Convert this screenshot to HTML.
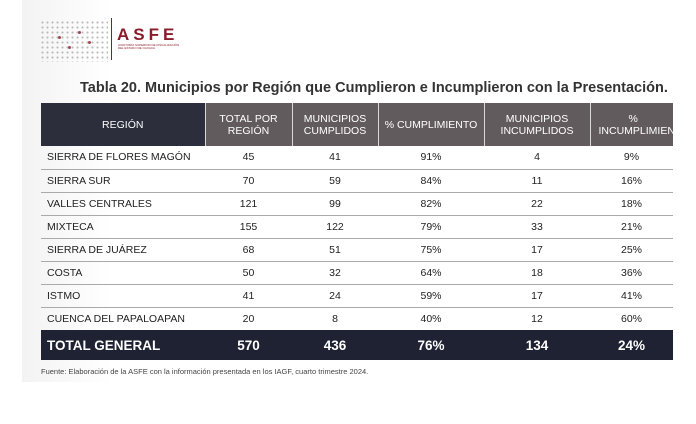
<!DOCTYPE html>
<html><head><meta charset="utf-8"><style>
*{margin:0;padding:0;box-sizing:border-box}
body{width:696px;height:424px;background:#fff;position:relative;overflow:hidden;font-family:"Liberation Sans",sans-serif}
.strip{position:absolute;left:22px;top:0;width:90px;height:382px;background:linear-gradient(90deg,#f3f3f3,#fff)}
.logo{position:absolute;left:40px;top:20px;width:68px;height:42px;
background-image:radial-gradient(circle,#aaa 0.9px,transparent 1.2px);background-size:5px 5px;opacity:.8}
.logo i{position:absolute;width:3px;height:3px;border-radius:50%;background:#8a1c2a}
.vl{position:absolute;left:111px;top:18px;width:1px;height:42px;background:#8a1c2a}
.asfe{position:absolute;left:117px;top:25px;font-weight:bold;font-size:17px;letter-spacing:4px;color:#8a1c2a}
.sub{position:absolute;left:118px;top:44px;font-size:3px;color:#8a1c2a;line-height:3px}
.title{position:absolute;left:80px;top:80px;font-size:14.5px;font-weight:bold;color:#333;white-space:nowrap}
table{position:absolute;left:41px;top:103px;width:632px;border-collapse:collapse;table-layout:fixed}
th{height:43px;background:#625b5e;color:#fff;font-size:10.5px;font-weight:normal;line-height:12px;border-left:1px solid #d8d8d8;overflow:hidden;white-space:nowrap}
th.r{background:#2c2f3b;border-left:none}
th.l{text-align:left;padding-left:8px}
td{height:23px;font-size:10.5px;color:#222;text-align:center;border-bottom:1px solid #aaa}
td:first-child{text-align:left;padding-left:6px}
tr.t td{height:30px;background:#1e2233;color:#fff;font-weight:bold;font-size:13.5px;border:none}
.fn{position:absolute;left:41px;top:367px;font-size:7.5px;color:#444}
</style></head><body>
<div class="strip"></div>
<div class="logo"><i style="left:18px;top:16px"></i><i style="left:28px;top:26px"></i><i style="left:38px;top:11px"></i><i style="left:48px;top:21px"></i></div>
<div class="vl"></div>
<div class="asfe">ASFE</div>
<div class="sub">AUDITORÍA SUPERIOR DE FISCALIZACIÓN<br>DEL ESTADO DE OAXACA</div>
<div class="title">Tabla 20. Municipios por Región que Cumplieron e Incumplieron con la Presentación.</div>
<table>
<colgroup><col style="width:164px"><col style="width:87px"><col style="width:86px"><col style="width:106px"><col style="width:106px"><col style="width:83px"></colgroup>
<tr><th class="r">REGIÓN</th><th>TOTAL POR<br>REGIÓN</th><th>MUNICIPIOS<br>CUMPLIDOS</th><th>% CUMPLIMIENTO</th><th>MUNICIPIOS<br>INCUMPLIDOS</th><th class="l"><span style="padding-left:30px">%</span><br>INCUMPLIMIENTO</th></tr>
<tr><td>SIERRA DE FLORES MAGÓN</td><td>45</td><td>41</td><td>91%</td><td>4</td><td>9%</td></tr>
<tr><td>SIERRA SUR</td><td>70</td><td>59</td><td>84%</td><td>11</td><td>16%</td></tr>
<tr><td>VALLES CENTRALES</td><td>121</td><td>99</td><td>82%</td><td>22</td><td>18%</td></tr>
<tr><td>MIXTECA</td><td>155</td><td>122</td><td>79%</td><td>33</td><td>21%</td></tr>
<tr><td>SIERRA DE JUÁREZ</td><td>68</td><td>51</td><td>75%</td><td>17</td><td>25%</td></tr>
<tr><td>COSTA</td><td>50</td><td>32</td><td>64%</td><td>18</td><td>36%</td></tr>
<tr><td>ISTMO</td><td>41</td><td>24</td><td>59%</td><td>17</td><td>41%</td></tr>
<tr><td style="border:none">CUENCA DEL PAPALOAPAN</td><td style="border:none">20</td><td style="border:none">8</td><td style="border:none">40%</td><td style="border:none">12</td><td style="border:none">60%</td></tr>
<tr class="t"><td>TOTAL GENERAL</td><td>570</td><td>436</td><td>76%</td><td>134</td><td>24%</td></tr>
</table>
<div class="fn">Fuente: Elaboración de la ASFE con la información presentada en los IAGF, cuarto trimestre 2024.</div>
</body></html>
